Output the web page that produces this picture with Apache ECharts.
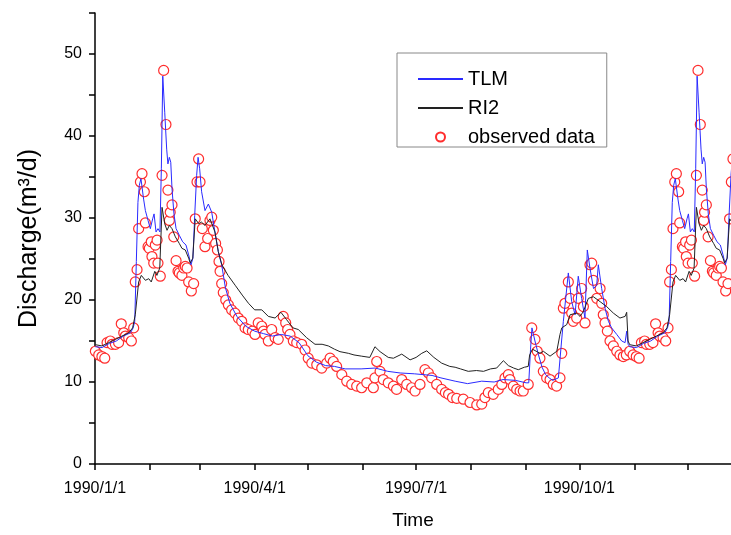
<!DOCTYPE html>
<html>
<head>
<meta charset="utf-8">
<script src="https://cdn.jsdelivr.net/npm/echarts@6/dist/echarts.min.js"></script>
<style>
  html, body { margin: 0; padding: 0; background: #fff; }
  #chart { width: 731px; height: 535px; }
</style>
</head>
<body>
<div id="chart"></div>
<script>
// day of year 1990 (0 = 1990/1/1) and discharge
var obsDays = [0.2,2.1,3.9,5.5,6.8,8.6,9.6,11.5,13.3,14.8,16.2,17.1,19,20.5,21.8,22.7,23.7,24.6,25.6,26.5,27.8,28.4,29.9,30.6,31.7,32.1,33.1,34,35,35.5,36.8,37.8,38.7,40,41.1,41.9,42.4,43.4,44.4,45.7,46.8,47.5,49,50,50.9,51.9,52.8,54.3,55.6,56.5,57.5,58.4,59.2,60.5,62,63.5,64.8,65.8,66.7,68,69,69.9,70.5,71.4,72.3,73.7,75.2,77,78.9,80.8,82.7,84.6,86.4,88.7,90.2,92,94,94.9,95.8,97.7,99.6,101.5,103.3,106.1,107.5,108.6,109.9,111.8,113.7,116.5,118.4,120.2,122.2,125,127.8,130.6,132.5,134.3,136.2,139.1,141.9,144.7,147.5,150.3,153.2,156.9,157.8,158.8,160.7,162.5,165.3,168.2,170,172.9,175.7,178.5,180.4,183.2,186,187.9,189.8,192.6,195.4,197.5,199.3,201.5,203.9,207.6,211.4,215.2,218,219.8,221.7,224.5,227.3,229.3,231.1,233,233.9,235.8,237.7,239.6,241.4,244.2,246.2,248,249.3,250.8,252.7,254.6,256.5,258.3,260.2,262.1,263.1,264,264.9,266.8,267.8,268.7,269.6,271.5,272.4,274.3,275.3,276.2,279,280,280.9,282.8,284.7,285.6,286.5,287.5,288.8,290.3,292.2,294.1,295.9,297.8,299.5,301.4,303.3,305.1,306.7,308,309.8,310.8,312.7,314.5,316,317.4,318.3,320.2,321.7,323,323.9,324.9,325.8,326.8,327.7,329,329.6,331.1,331.8,332.9,333.3,334.3,335.2,336.2,336.7,338,339,339.9,341.2,342.3,343.1,343.6,344.6,345.6,346.9,348,348.7,350.2,351.2,352.1,353.1,354,355.5,356.8,357.7,358.7,359.6];
var obsVals = [13.75,13.3,13.1,12.9,14.8,15.0,14.6,14.6,14.8,17.1,16.0,15.6,15.4,15.0,16.6,22.2,23.7,28.7,34.4,35.4,33.2,29.4,26.5,26.3,27.1,25.3,24.5,26.7,27.3,24.5,22.9,35.2,48.0,41.4,33.4,29.7,30.7,31.6,27.7,24.8,23.5,23.3,23.0,23.9,24.1,23.9,22.2,21.1,22.0,29.9,34.4,37.2,34.4,28.7,26.5,27.5,29.7,30.1,28.5,26.9,26.1,24.7,23.5,22.0,20.9,20.0,19.4,18.8,18.4,17.8,17.4,16.6,16.4,16.2,15.8,17.2,16.8,16.2,15.8,15.0,16.4,15.4,15.2,18.0,17.2,16.4,15.8,15.0,14.8,14.6,13.9,12.9,12.3,12.1,11.7,12.3,12.9,12.5,11.9,10.9,10.1,9.7,9.5,9.3,9.9,9.3,10.5,12.5,11.3,10.3,9.9,9.5,9.1,10.3,9.7,9.3,8.9,9.7,11.5,11.1,10.5,9.7,9.1,8.7,8.5,8.1,8.0,7.9,7.5,7.2,7.3,8.1,8.7,8.5,9.1,9.7,10.5,10.9,10.3,9.5,9.1,8.9,8.9,9.7,16.6,15.2,13.75,12.9,11.3,10.5,10.3,9.7,9.5,10.5,13.5,19.0,19.6,22.2,20.2,18.4,17.4,17.8,20.2,21.4,19.2,17.2,24.3,24.5,22.4,20.2,21.4,19.6,18.2,17.2,16.2,15.0,14.4,13.75,13.3,13.1,13.3,13.75,13.3,13.1,12.9,14.8,15.0,14.6,14.6,14.8,17.1,16.0,15.6,15.4,15.0,16.6,22.2,23.7,28.7,34.4,35.4,33.2,29.4,26.5,26.3,27.1,25.3,24.5,26.7,27.3,24.5,22.9,35.2,48.0,41.4,33.4,29.7,30.7,31.6,27.7,24.8,23.5,23.3,23.0,23.9,24.1,23.9,22.2,21.1,22.0,29.9,34.4,37.2];

var tlmDays = [0.2,4,8,12,16,20,21.5,22.4,23.3,24.2,25,25.9,27.4,28.4,29.9,31.2,32.5,33.3,34.4,35.5,36.6,37.4,38.2,39.3,40.4,41.1,41.9,42.7,43.4,44.5,45.7,47.5,49.4,51.3,52.8,54.1,55.2,56.2,57.3,58.1,59,60.1,62,63.9,65.8,67.6,69.5,71.4,73.5,76,80,85,90,95,100,105,110,115,120,125,130,135,141,150,158,165,172,180,190,195,203,210,218,225,230,237,243,244.5,245.5,246.3,248,250,252,254,256,258,261.2,263,264,266.8,268.7,270.6,272.4,274.3,276.2,277.5,279,281,282.8,283.7,285.6,287.5,289.4,291.2,294.1,296.9,298.8,299.7,300.5,301.4,305.2,309.2,313.2,317.2,321.2,322.7,323.6,324.5,325.4,326.2,327.1,328.6,329.6,331.1,332.4,333.7,334.5,335.6,336.7,337.8,338.6,339.4,340.5,341.6,342.3,343.1,343.9,344.6,345.7,346.9,348.7,350.6,352.5,354,355.3,356.4,357.4,358.5,359.3];
var tlmVals = [14.3,14.2,14.7,15.0,15.6,16.0,16.6,17.4,24.7,31.9,34.0,34.8,32.3,30.9,29.7,28.7,29.9,30.5,28.3,28.7,28.3,36.0,47.3,42.9,38.4,36.6,37.4,36.8,33.6,30.5,28.7,27.9,27.1,26.7,25.5,24.3,25.1,30.3,35.2,37.4,36.0,33.2,30.9,31.7,30.7,28.3,25.9,24.3,21.5,19.6,18.0,16.8,16.2,15.9,15.6,15.8,15.6,14.8,13.2,12.4,12.0,11.9,11.6,11.6,11.7,11.3,11.1,11.0,10.8,10.5,10.1,9.8,10.1,10.0,10.3,10.2,9.9,9.9,14.0,16.6,15.0,13.3,11.8,10.9,10.5,10.2,10.5,15.0,17.4,23.3,19.8,18.2,22.9,20.2,17.8,26.1,23.9,21.4,21.8,24.3,21.4,19.0,17.4,16.6,15.8,15.0,14.8,16.2,14.6,14.3,14.2,14.7,15.0,15.6,16.0,16.6,17.4,24.7,31.9,34.0,34.8,32.3,30.9,29.7,28.7,29.9,30.5,28.3,28.7,28.3,36.0,47.3,42.9,38.4,36.6,37.4,36.8,33.6,30.5,28.7,27.9,27.1,26.7,25.5,24.3,25.1,30.3,35.2,37.4];

var ri2Days = [0.2,3.9,7.7,11.5,15.2,19,21.2,22.7,24.6,26.1,28.4,30.3,31.7,33.7,34.9,36.5,37.8,39.3,40.6,41.9,43.4,45.3,47.5,49,50.9,52.8,53.7,55.1,56.5,58.5,60,62,64.8,67.6,69.5,71.5,75,79,83,86.5,90,94,97.7,101.5,104.8,108,111.6,114.6,119.3,124,128,131.5,135,138.1,142.8,146,150.3,154.9,157.8,160.7,165.3,168.2,172.9,177.6,181,184.2,187,191,195.4,200,203,206,210.4,215,219,223,226.4,230.2,233,236,238.6,242,244.2,245,246.6,250.8,252.7,256.5,260.3,262.1,263.1,265.9,267.8,271.5,273.4,275.3,278.1,280.9,284.7,288.4,292.2,295.9,298.8,299.7,300.5,301.4,305.1,308.9,312.7,316.4,320.2,322.4,323.9,325.8,327.3,329.6,331.5,332.9,334.9,336.1,337.7,339,340.5,341.8,343.1,344.6,346.5,348.7,350.2,352.1,354,354.9,356.3,357.7,359.7];
var ri2Vals = [14.55,14.4,14.8,15.2,15.6,16.0,16.6,18.2,22.2,23.0,22.4,22.6,22.2,23.5,23.0,23.9,31.3,29.3,28.5,29.1,28.7,27.7,26.9,26.3,26.1,25.1,24.5,25.1,29.9,29.3,29.5,29.1,29.9,28.3,25.9,24.3,23.0,21.8,20.6,19.6,18.8,18.8,18.0,17.8,18.5,17.6,16.6,16.4,15.4,14.6,14.6,14.4,14.0,13.7,13.5,13.3,13.15,13.0,14.3,13.7,13.0,12.9,13.4,12.7,13.0,13.5,13.8,13.0,12.3,11.9,11.8,11.6,11.3,11.4,11.3,11.6,11.7,12.6,12.0,11.7,11.5,11.8,11.9,13.3,14.0,13.5,13.75,13.15,13.75,15.8,16.6,17.0,18.2,18.4,18.0,18.6,20.2,20.4,19.8,19.2,18.4,17.8,18.0,18.5,15.0,14.55,14.4,14.8,15.2,15.6,16.0,16.6,18.2,22.2,23.0,22.4,22.6,22.2,23.5,23.0,23.9,31.3,29.3,28.5,29.1,28.7,27.7,26.9,26.3,26.1,25.1,24.5,25.1,29.9,29.3];

// axis ticks (first day of each month) and labels
var monthStartDays = [0,31,59,90,120,151,181,212,243,273,304,334];
var xLabelDays = [0,90,181,273];
var xLabelText = ['1990/1/1','1990/4/1','1990/7/1','1990/10/1'];

function pairs(d, v) {
  return d.map(function (x, i) { return [x, v[i]]; });
}

var font = "'Liberation Sans', Arial, sans-serif";
var chart = echarts.init(document.getElementById('chart'), null, { renderer: 'canvas' });

var option = {
  backgroundColor: '#fff',
  animation: false,
  textStyle: { fontFamily: font, color: '#000' },
  grid: { left: 95, top: 13, right: 0, bottom: 68, containLabel: false },
  legend: {
    orient: 'vertical',
    left: 397,
    top: 53,
    padding: [16, 12, 0, 20],
    borderColor: '#888',
    borderWidth: 1,
    backgroundColor: '#fff',
    itemWidth: 45,
    itemHeight: 9,
    itemGap: 9,
    textStyle: { fontFamily: font, fontSize: 20, color: '#000', lineHeight: 20 },
    data: [
      { name: 'TLM', itemStyle: { opacity: 0 } },
      { name: 'RI2', itemStyle: { opacity: 0 } },
      { name: 'observed data' }
    ]
  },
  xAxis: {
    type: 'value',
    min: 0,
    max: 358.5,
    name: 'Time',
    nameLocation: 'middle',
    nameGap: 47,
    nameTextStyle: { fontFamily: font, fontSize: 19, color: '#000' },
    axisLine: { lineStyle: { color: '#000', width: 1.5 } },
    axisTick: { customValues: monthStartDays, length: 6, lineStyle: { color: '#000', width: 1.5 } },
    axisLabel: {
      customValues: xLabelDays,
      margin: 17,
      fontSize: 16,
      color: '#000',
      fontFamily: font,
      formatter: function (v) { return xLabelText[xLabelDays.indexOf(v)]; }
    },
    splitLine: { show: false }
  },
  yAxis: {
    type: 'value',
    min: 0,
    max: 55,
    interval: 5,
    name: 'Discharge(m³/d)',
    nameLocation: 'middle',
    nameGap: 53,
    nameTextStyle: { fontFamily: font, fontSize: 25, color: '#000' },
    axisLine: { show: true, lineStyle: { color: '#000', width: 1.5 } },
    axisTick: { show: true, length: 6, lineStyle: { color: '#000', width: 1.5 } },
    axisLabel: {
      margin: 13,
      fontSize: 16,
      color: '#000',
      fontFamily: font,
      formatter: function (v) { return v % 10 === 0 ? String(v) : ''; }
    },
    splitLine: { show: false }
  },
  series: [
    {
      name: 'TLM',
      type: 'line',
      data: pairs(tlmDays, tlmVals),
      symbol: 'none',
      lineStyle: { color: '#2a2aff', width: 1 },
      itemStyle: { color: '#2a2aff' }
    },
    {
      name: 'RI2',
      type: 'line',
      data: pairs(ri2Days, ri2Vals),
      symbol: 'none',
      lineStyle: { color: '#222', width: 1 },
      itemStyle: { color: '#222' }
    },
    {
      name: 'observed data',
      type: 'scatter',
      clip: false,
      data: pairs(obsDays, obsVals),
      symbol: 'circle',
      symbolSize: 10,
      itemStyle: { color: '#fff', borderColor: '#ff2d2d', borderWidth: 1.2, opacity: 1 }
    }
  ]
};

chart.setOption(option);
</script>
</body>
</html>
